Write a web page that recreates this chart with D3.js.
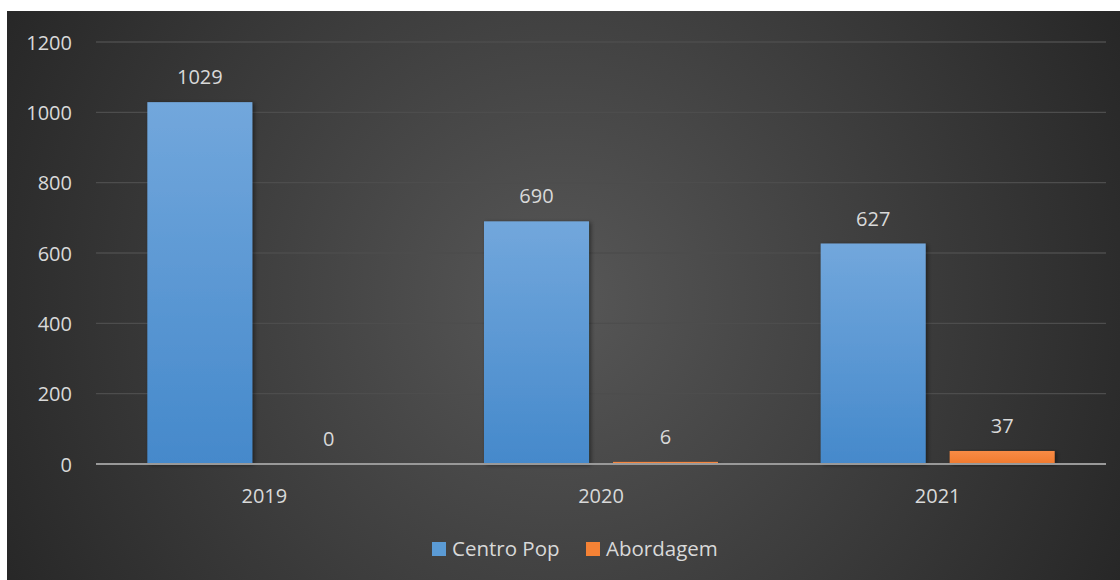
<!DOCTYPE html>
<html>
<head>
<meta charset="utf-8">
<script src="https://cdn.jsdelivr.net/npm/d3@7"></script>
<style>
  html, body { margin: 0; padding: 0; background: #ffffff; }
  svg { display: block; }
  text { font-family: "Open Sans", "Noto Sans", sans-serif; }
</style>
</head>
<body>
<svg id="chart" width="1120" height="580"></svg>
<script>
// Chart data
const years = ["2019", "2020", "2021"];
const seriesNames = ["Centro Pop", "Abordagem"];
const centroPop = [1029, 690, 627];
const abordagem = [0, 6, 37];
const yTicks = [0, 200, 400, 600, 800, 1000, 1200];

const W = 1120, H = 580;
const panel = { x: 7, y: 11, w: W - 7, h: H - 11 };
const plot = { left: 96, right: 1106, top: 42, bottom: 464 };

const svg = d3.select("#chart");
const defs = svg.append("defs");

// Dark radial background
const bg = defs.append("radialGradient")
  .attr("id", "bgGrad")
  .attr("gradientUnits", "userSpaceOnUse")
  .attr("cx", 560).attr("cy", 300).attr("r", 640);
bg.append("stop").attr("offset", "0%").attr("stop-color", "#575757");
bg.append("stop").attr("offset", "100%").attr("stop-color", "#262626");

// Bar gradients
const blue = defs.append("linearGradient").attr("id", "blueGrad")
  .attr("x1", 0).attr("y1", 0).attr("x2", 0).attr("y2", 1);
blue.append("stop").attr("offset", "0%").attr("stop-color", "#72a7dc");
blue.append("stop").attr("offset", "100%").attr("stop-color", "#4589cb");

const orange = defs.append("linearGradient").attr("id", "orangeGrad")
  .attr("x1", 0).attr("y1", 0).attr("x2", 0).attr("y2", 1);
orange.append("stop").attr("offset", "0%").attr("stop-color", "#f88b45");
orange.append("stop").attr("offset", "100%").attr("stop-color", "#f07a2e");

// Soft shadow under bars
const shadow = defs.append("filter").attr("id", "barShadow")
  .attr("x", "-10%").attr("y", "-10%").attr("width", "130%").attr("height", "130%");
shadow.append("feDropShadow")
  .attr("dx", 2).attr("dy", 1).attr("stdDeviation", 2)
  .attr("flood-color", "#000").attr("flood-opacity", 0.45);

svg.append("rect")
  .attr("x", panel.x).attr("y", panel.y)
  .attr("width", panel.w).attr("height", panel.h)
  .attr("fill", "url(#bgGrad)");

// Scales
const x0 = d3.scaleBand().domain(years)
  .range([plot.left, plot.right]).paddingInner(0).paddingOuter(0);
const x1 = d3.scaleBand().domain(seriesNames)
  .range([0, x0.bandwidth()]).paddingInner(0.186).paddingOuter(0.398);
const y = d3.scaleLinear().domain([0, 1200]).range([plot.bottom, plot.top]);

// Gridlines
svg.append("g").selectAll("line")
  .data(yTicks.filter(t => t > 0))
  .join("line")
  .attr("x1", plot.left).attr("x2", plot.right)
  .attr("y1", d => y(d)).attr("y2", d => y(d))
  .attr("stroke", "#4d4d4d").attr("stroke-width", 1.3);

// Y axis labels
const yAxis = svg.append("g")
  .attr("transform", `translate(${72},0)`)
  .call(d3.axisLeft(y).tickValues(yTicks).tickFormat(d3.format("d")).tickSize(0).tickPadding(0));
yAxis.select(".domain").remove();
yAxis.selectAll("text")
  .attr("fill", "#d9d9d9")
  .style("font-size", "20px")
  .style("font-family", "'Open Sans', sans-serif")
  .attr("dy", "0.36em");

// Bars
const seriesData = [centroPop, abordagem];
const fills = ["url(#blueGrad)", "url(#orangeGrad)"];
const groups = svg.append("g").selectAll("g")
  .data(years)
  .join("g")
  .attr("transform", d => `translate(${x0(d)},0)`);

groups.selectAll("rect")
  .data((d, i) => seriesNames.map((s, k) => ({ s, k, v: seriesData[k][i] })))
  .join("rect")
  .attr("x", d => x1(d.s))
  .attr("width", x1.bandwidth())
  .attr("y", d => y(d.v))
  .attr("height", d => plot.bottom - y(d.v))
  .attr("fill", d => fills[d.k])
  .attr("filter", d => d.v > 0 ? "url(#barShadow)" : null);

// Value labels
groups.selectAll("text.val")
  .data((d, i) => seriesNames.map((s, k) => ({ s, k, v: seriesData[k][i] })))
  .join("text")
  .attr("class", "val")
  .attr("x", d => x1(d.s) + x1.bandwidth() / 2)
  .attr("y", d => y(d.v) - 18)
  .attr("text-anchor", "middle")
  .attr("fill", "#d9d9d9")
  .style("font-size", "20px")
  .text(d => d.v);

// Baseline
svg.append("line")
  .attr("x1", plot.left).attr("x2", plot.right)
  .attr("y1", plot.bottom).attr("y2", plot.bottom)
  .attr("stroke", "#999999").attr("stroke-width", 2);

// Category labels
const xAxis = svg.append("g")
  .attr("transform", `translate(0,${plot.bottom})`)
  .call(d3.axisBottom(x0).tickSize(0).tickPadding(0));
xAxis.select(".domain").remove();
xAxis.selectAll("text")
  .attr("fill", "#d9d9d9")
  .attr("y", 39)
  .attr("dy", 0)
  .style("font-size", "20px")
  .style("font-family", "'Open Sans', sans-serif");

// Legend
const legendItems = [
  { name: seriesNames[0], fill: "#5b9bd5", x: 432 },
  { name: seriesNames[1], fill: "#f58235", x: 586 }
];
const legend = svg.append("g").selectAll("g")
  .data(legendItems)
  .join("g")
  .attr("transform", d => `translate(${d.x},542)`);
legend.append("rect")
  .attr("width", 14).attr("height", 14)
  .attr("fill", d => d.fill);
legend.append("text")
  .attr("x", 20).attr("y", 14)
  .attr("fill", "#d9d9d9")
  .style("font-size", "20.5px")
  .text(d => d.name);
</script>
</body>
</html>
